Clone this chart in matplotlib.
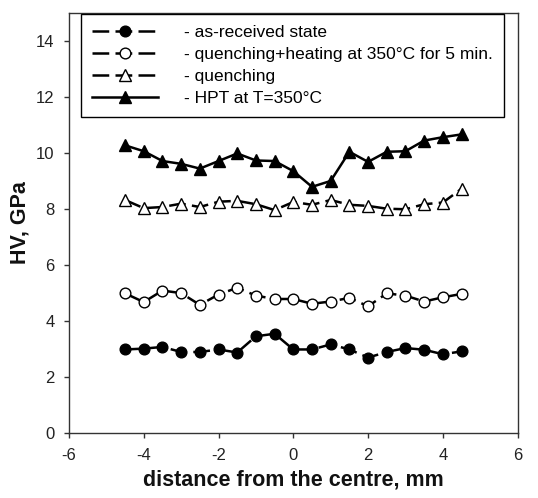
import matplotlib
matplotlib.use("Agg")
import matplotlib.pyplot as plt

plt.rcParams['font.family'] = ['Liberation Sans', 'DejaVu Sans']

x = [-4.5, -4.0, -3.5, -3.0, -2.5, -2.0, -1.5, -1.0, -0.5, 0.0,
     0.5, 1.0, 1.5, 2.0, 2.5, 3.0, 3.5, 4.0, 4.5]

as_received = [2.99, 3.02, 3.08, 2.90, 2.90, 2.99, 2.88, 3.46, 3.55, 2.99,
               2.99, 3.17, 2.99, 2.70, 2.90, 3.04, 2.98, 2.82, 2.92]
quench_heat = [4.99, 4.68, 5.09, 5.00, 4.58, 4.95, 5.19, 4.91, 4.79, 4.79,
               4.62, 4.70, 4.83, 4.53, 4.99, 4.91, 4.70, 4.85, 4.97]
quenching = [8.32, 8.03, 8.07, 8.19, 8.07, 8.26, 8.29, 8.17, 7.96, 8.25,
             8.15, 8.32, 8.15, 8.11, 8.01, 7.99, 8.17, 8.23, 8.72]
hpt = [10.27, 10.06, 9.71, 9.61, 9.44, 9.71, 9.98, 9.73, 9.71, 9.35,
       8.79, 9.00, 10.04, 9.68, 10.04, 10.06, 10.44, 10.56, 10.66]

labels = ["- as-received state",
          "- quenching+heating at 350\u00b0C for 5 min.",
          "- quenching",
          "- HPT at T=350\u00b0C"]

xticks = [-6, -4, -2, 0, 2, 4, 6]
yticks = [0, 2, 4, 6, 8, 10, 12, 14]

W, H = 538, 498
fig = plt.figure(figsize=(W/100, H/100), dpi=100)
L, R, T, B = 69.0, 517.6, 12.7, 433.3
ax = fig.add_axes([L/W, 1-B/H, (R-L)/W, (B-T)/H])

dash = (0, (6.7, 2.5))
lw = 1.8
ax.plot(x, as_received, linestyle=dash, color='black', lw=lw, marker='o',
        markersize=7.7, markerfacecolor='black', markeredgecolor='black',
        label=labels[0])
ax.plot(x, quench_heat, linestyle=dash, color='black', lw=lw, marker='o',
        markersize=7.7, markerfacecolor='white', markeredgecolor='black',
        markeredgewidth=1.0, label=labels[1])
ax.plot(x, quenching, linestyle=dash, color='black', lw=lw, marker='^',
        markersize=8.7, markerfacecolor='white', markeredgecolor='black',
        markeredgewidth=1.0, label=labels[2])
ax.plot(x, hpt, linestyle='-', color='black', lw=lw, marker='^',
        markersize=8.7, markerfacecolor='black', markeredgecolor='black',
        label=labels[3])

ax.set_xlim(-6, 6)
ax.set_ylim(0, 15)
ax.set_xticks(xticks)
ax.set_yticks(yticks)
ax.set_xticklabels([str(v) for v in xticks])
ax.tick_params(axis='both', direction='out', length=3.4, width=1,
               labelsize=12, color='#333333', pad=7, labelcolor='#222222')
for s in ax.spines.values():
    s.set_color('#333333')
    s.set_linewidth(1.0)

ax.set_xlabel("distance from the centre, mm", fontsize=15.5,
              fontweight='bold', labelpad=5.0, color='#111111')
ax.set_ylabel("HV, GPa", fontsize=15.5, fontweight='bold', labelpad=3.6,
              color='#111111')

leg = ax.legend(loc='upper left',
                bbox_to_anchor=((80.7-L)/(R-L), (B-14)/(B-T)),
                borderaxespad=0, frameon=True, fancybox=False,
                edgecolor='black', fontsize=12.5, handlelength=3.8,
                handletextpad=1.5, labelspacing=0.385, borderpad=0.64,
                framealpha=1)
leg.get_frame().set_linewidth(1.0)

fig.savefig("out.png", dpi=100)
